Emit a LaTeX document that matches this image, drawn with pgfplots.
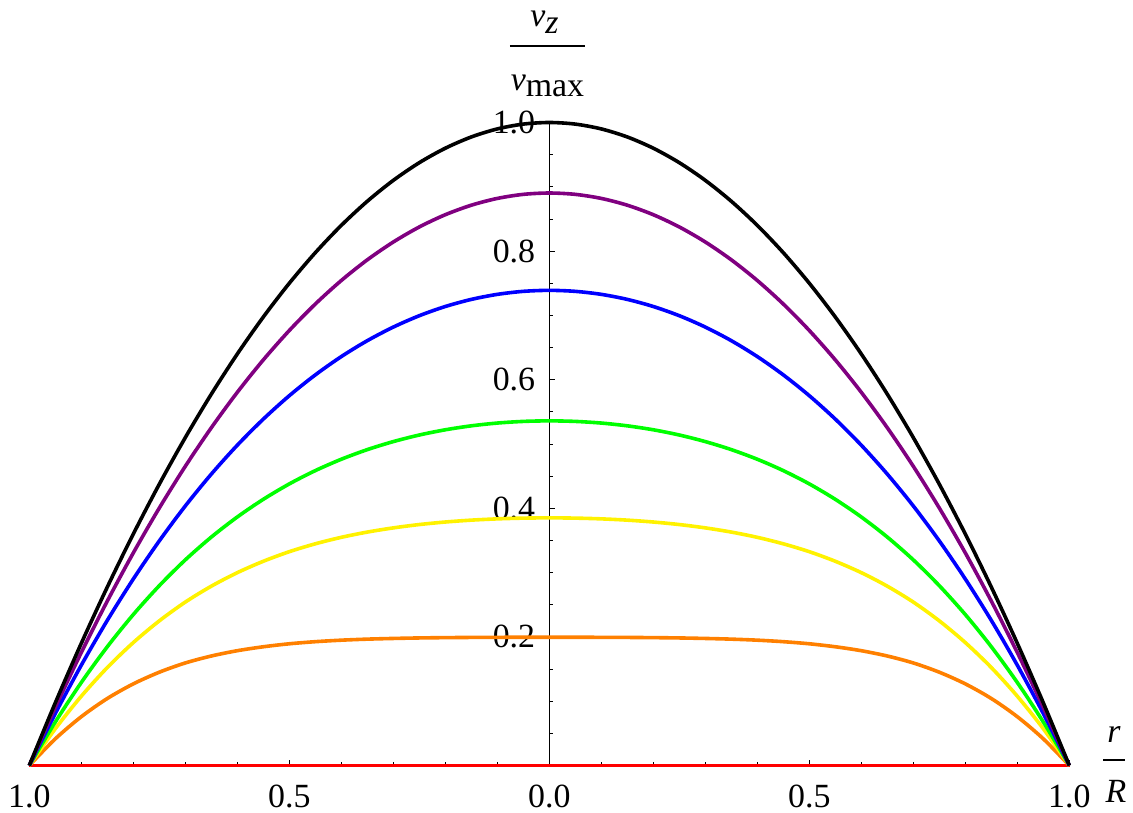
\documentclass[border=0pt]{standalone}
\usepackage{fontspec}
\setmainfont{Liberation Serif}
\usepackage{pgfplots}
\usepackage{pgfplotstable}
\pgfplotsset{compat=1.18}
\newcommand{\lf}{\fontsize{34}{40}\selectfont}
\definecolor{mpurple}{rgb}{0.5,0,0.5}
\definecolor{morange}{rgb}{1,0.5,0}
\pgfplotstableread{
x      black    purple   blue     green    yellow   orange
-1.00  0.0000   0.00000  0.00000  0.00000  0.00000  0.00000
-0.95  0.0975   0.09049  0.08082  0.06762  0.05715  0.04147
-0.90  0.1900   0.17571  0.15599  0.12908  0.10776  0.07590
-0.85  0.2775   0.25573  0.22568  0.18471  0.15233  0.10419
-0.80  0.3600   0.33061  0.29004  0.23476  0.19118  0.12694
-0.75  0.4375   0.40044  0.34929  0.27966  0.22493  0.14510
-0.70  0.5100   0.46532  0.40365  0.31978  0.25412  0.15948
-0.65  0.5775   0.52526  0.45316  0.35522  0.27887  0.17028
-0.60  0.6400   0.58039  0.49812  0.38651  0.29990  0.17853
-0.55  0.6975   0.63079  0.53870  0.41396  0.31761  0.18465
-0.50  0.7500   0.67653  0.57512  0.43793  0.33252  0.18929
-0.45  0.7975   0.71766  0.60746  0.45859  0.34477  0.19256
-0.40  0.8400   0.75427  0.63594  0.47628  0.35485  0.19490
-0.35  0.8775   0.78641  0.66068  0.49126  0.36302  0.19651
-0.30  0.9100   0.81414  0.68182  0.50373  0.36953  0.19758
-0.25  0.9375   0.83752  0.69951  0.51398  0.37472  0.19837
-0.20  0.9600   0.85658  0.71383  0.52209  0.37867  0.19885
-0.15  0.9775   0.87137  0.72487  0.52825  0.38158  0.19917
-0.10  0.9900   0.88191  0.73271  0.53256  0.38356  0.19934
-0.05  0.9975   0.88823  0.73739  0.53512  0.38472  0.19945
 0.00  1.0000   0.89033  0.73895  0.53597  0.38511  0.19950
 0.05  0.9975   0.88823  0.73739  0.53512  0.38472  0.19945
 0.10  0.9900   0.88191  0.73271  0.53256  0.38356  0.19934
 0.15  0.9775   0.87137  0.72487  0.52825  0.38158  0.19917
 0.20  0.9600   0.85658  0.71383  0.52209  0.37867  0.19885
 0.25  0.9375   0.83752  0.69951  0.51398  0.37472  0.19837
 0.30  0.9100   0.81414  0.68182  0.50373  0.36953  0.19758
 0.35  0.8775   0.78641  0.66068  0.49126  0.36302  0.19651
 0.40  0.8400   0.75427  0.63594  0.47628  0.35485  0.19490
 0.45  0.7975   0.71766  0.60746  0.45859  0.34477  0.19256
 0.50  0.7500   0.67653  0.57512  0.43793  0.33252  0.18929
 0.55  0.6975   0.63079  0.53870  0.41396  0.31761  0.18465
 0.60  0.6400   0.58039  0.49812  0.38651  0.29990  0.17853
 0.65  0.5775   0.52526  0.45316  0.35522  0.27887  0.17028
 0.70  0.5100   0.46532  0.40365  0.31978  0.25412  0.15948
 0.75  0.4375   0.40044  0.34929  0.27966  0.22493  0.14510
 0.80  0.3600   0.33061  0.29004  0.23476  0.19118  0.12694
 0.85  0.2775   0.25573  0.22568  0.18471  0.15233  0.10419
 0.90  0.1900   0.17571  0.15599  0.12908  0.10776  0.07590
 0.95  0.0975   0.09049  0.08082  0.06762  0.05715  0.04147
 1.00  0.0000   0.00000  0.00000  0.00000  0.00000  0.00000
}\profiles
\begin{document}
\begin{tikzpicture}
\path[use as bounding box] (-29.3bp,-47.5bp) rectangle (1103.7bp,765.5bp);
\begin{axis}[
  at={(0,0)}, anchor=south west,
  scale only axis, x=520bp, y=643bp,
  xmin=-1, xmax=1, ymin=0, ymax=1,
  axis x line=bottom, axis y line=middle,
  x axis line style={-}, y axis line style={-},
  axis line style={line width=0.8bp, black},
  clip=false,
  xtick={-1,-0.5,0,0.5,1},
  xticklabels={1.0,0.5,0.0,0.5,1.0},
  ytick={0.2,0.4,0.6,0.8,1.0},
  yticklabels={0.2,0.4,0.6,0.8,1.0},
  minor xtick={-0.9,-0.8,-0.7,-0.6,-0.4,-0.3,-0.2,-0.1,0.1,0.2,0.3,0.4,0.6,0.7,0.8,0.9},
  minor ytick={0.05,0.1,0.15,0.25,0.3,0.35,0.45,0.5,0.55,0.65,0.7,0.75,0.85,0.9,0.95},
  tick align=inside,
  major tick length=6bp, minor tick length=4bp,
  tick style={black, line width=0.8bp},
  ticklabel style={font=\lf, inner sep=0pt},
  xticklabel style={anchor=north, yshift=-19bp},
  yticklabel style={anchor=east, xshift=-14bp},
  every axis plot/.append style={line width=3.6bp, smooth},
]
\addplot[red] coordinates {(-1,0) (1,0)};
\addplot[morange] table[x=x, y=orange] {\profiles};
\addplot[yellow] table[x=x, y=yellow] {\profiles};
\addplot[green] table[x=x, y=green] {\profiles};
\addplot[blue] table[x=x, y=blue] {\profiles};
\addplot[mpurple] table[x=x, y=purple] {\profiles};
\addplot[black] table[x=x, y=black] {\profiles};
% axis labels
\node[anchor=base, font=\lf, inner sep=0pt] at (axis cs:-0.0092,1.149) {\textit{v}\raisebox{-7bp}{\textit{z}}};
\draw[line width=2.2bp] (axis cs:-0.0756,1.1194) -- (axis cs:0.0687,1.1194);
\node[anchor=base, font=\lf, inner sep=0pt] at (axis cs:-0.0035,1.0495) {\textit{v}\raisebox{-6bp}{max}};
\node[anchor=base, font=\lf, inner sep=0pt] at (axis cs:1.0860,0.0365) {\textit{r}};
\draw[line width=2.2bp] (axis cs:1.0648,0.0086) -- (axis cs:1.1071,0.0086);
\node[anchor=base, font=\lf, inner sep=0pt] at (axis cs:1.0898,-0.0568) {\textit{R}};
\end{axis}
\end{tikzpicture}
\end{document}
